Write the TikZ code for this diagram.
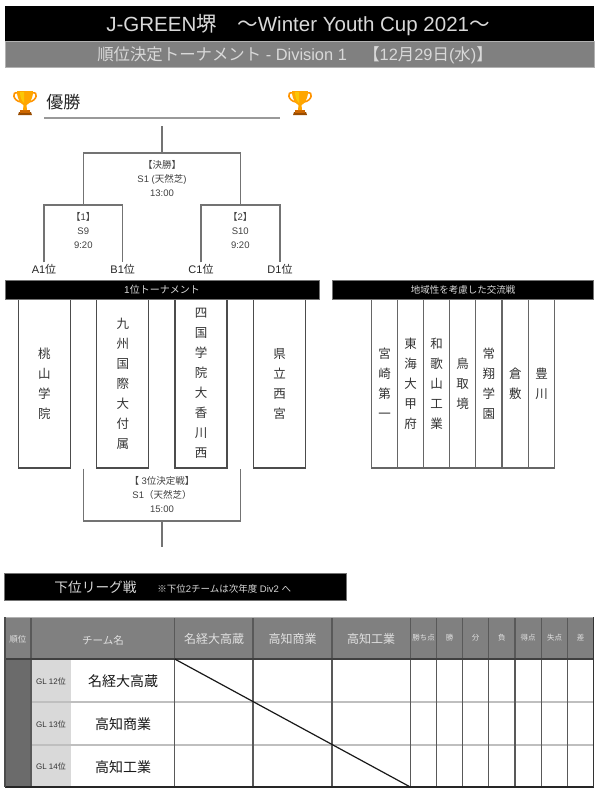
\documentclass[tikz,border=0pt]{standalone}
\usepackage{fontspec}
\setmainfont{Liberation Sans}
\newfontfamily\cj{Noto Sans CJK JP}
\newcommand{\J}[1]{{\cj #1}}
\newcommand{\pxf}[1]{\fontsize{\the\dimexpr #1pt*3/4\relax}{15pt}\selectfont}
\tikzset{
  brk/.style={draw=black!55,line width=1pt},
  txt/.style={inner sep=0pt,text=black!75,font=\pxf{9.5}},
  lab/.style={inner sep=0pt,text=black!85,font=\pxf{11}},
  bandbox/.style={fill=black,draw=black!55,line width=.4pt},
  teambox/.style={draw=black!70,line width=.8pt,fill=white,inner sep=0pt,minimum width=39pt,minimum height=126.75pt,align=center,text=black!80,font=\cj\pxf{12.5}},
  xbox/.style={draw=black!60,line width=.9pt,fill=white,inner sep=0pt,minimum width=19.6pt,minimum height=126.75pt,align=center,text=black!80,font=\cj\pxf{12.5}},
  hdr/.style={inner sep=0pt,text=white!88!black,font=\cj\pxf{12}},
  hdrs/.style={inner sep=0pt,text=white!88!black,font=\cj\pxf{7.5}},
  tname/.style={inner sep=0pt,text=black!90,font=\cj\pxf{14}},
  gltxt/.style={inner sep=0pt,text=black!80,font=\pxf{8}},
  vrule/.style={draw=black!65,line width=.9pt},
  rowrule/.style={draw=black!25,line width=1pt},
  bartxt/.style={inner sep=0pt,text=white!85!black},
}
\newcommand{\drawtrophy}[2]{%
  \begin{scope}[shift={(#1,#2)}]
    \fill[orange!60!black] (-6,10) -- (6,10) -- (7,13) -- (-7,13) -- cycle;
    \fill[orange!80!black] (-5,8) rectangle (5,11);
    \draw[orange!85!yellow,line width=1.2pt] (-7,-9) .. controls (-14,-11) and (-12,-1) .. (-4,0);
    \draw[orange!85!yellow,line width=1.2pt] (7,-9) .. controls (14,-11) and (12,-1) .. (4,0);
    \fill[orange!70!yellow] (-8,-11) -- (8,-11) .. controls (8,-2) and (4,2) .. (1.5,3) -- (2,8) -- (-2,8) -- (-1.5,3) .. controls (-4,2) and (-8,-2) .. (-8,-11) -- cycle;
    \fill[yellow!60!orange] (-5,-10) .. controls (-5,-4) and (-3,-1) .. (-1,1) -- (-1,-10) -- cycle;
  \end{scope}}
\begin{document}
\begin{tikzpicture}[x=.75pt,y=-.75pt]
\useasboundingbox (0,0) rectangle (600,797);
\fill[white] (0,0) rectangle (600,797);
% title
\path[fill=black] (5,6) rectangle (594,41);
\path[fill=black!50,draw=black!30,line width=.3pt] (5,41) rectangle (594,67);
\node[bartxt,font=\pxf{20.5}] (title) at (298,25) {J-GREEN\J{堺　〜}Winter Youth Cup 2021\J{〜}};
\node[bartxt,font=\pxf{16.4}] (subtitle) at (295,55) {\J{順位決定トーナメント} - Division 1\J{　【}12\J{月}29\J{日}(\J{水})\J{】}};
% champion
\drawtrophy{25}{102}
\drawtrophy{300}{102}
\node[inner sep=0pt,text=black!85,font=\cj\pxf{17},anchor=west] (win) at (46,102) {優勝};
\coordinate (wl) at (44,118); \coordinate (wr) at (280,118);
\draw[draw=black!40,line width=1.2pt] (wl) -- (wr);
% coordinates of bracket
\coordinate (top) at (162,126);
\coordinate (fin) at (162,153);
\coordinate (fl) at (83.3,153);
\coordinate (fr) at (240.3,153);
\coordinate (s1) at (83.3,205);
\coordinate (s2) at (240.3,205);
\coordinate (s1l) at (44,205);
\coordinate (s1r) at (122.7,205);
\coordinate (s2l) at (201,205);
\coordinate (s2r) at (280,205);
\node[lab] (A) at (44,269) {A1\J{位}};
\node[lab] (B) at (122.7,269) {B1\J{位}};
\node[lab] (C) at (201,269) {C1\J{位}};
\node[lab] (D) at (280,269) {D1\J{位}};
\draw[brk] (top) -- (fin);
\draw[brk] (s1) -- (fl) -- (fr) -- (s2);
\draw[brk] ([yshift=1pt]A.north -| s1l) -- (s1l) -- (s1r) -- ([yshift=1pt]B.north -| s1r);
\draw[brk] ([yshift=1pt]C.north -| s2l) -- (s2l) -- (s2r) -- ([yshift=1pt]D.north -| s2r);
\node[txt] (f1) at (162,165) {\J{【決勝】}};
\node[txt] (f2) at (162,179) {S1 (\J{天然芝})};
\node[txt] (f3) at (162,193) {13:00};
\node[txt] (m1a) at (83.3,217) {\J{【}1\J{】}};
\node[txt] (m1b) at (83.3,231) {S9};
\node[txt] (m1c) at (83.3,245) {9:20};
\node[txt] (m2a) at (240.3,217) {\J{【}2\J{】}};
\node[txt] (m2b) at (240.3,231) {S10};
\node[txt] (m2c) at (240.3,245) {9:20};
% team boxes
\node[teambox] (t1) at (44.3,383.5) {桃\\山\\学\\院};
\node[teambox] (t2) at (122.8,383.5) {九\\州\\国\\際\\大\\付\\属};
\node[teambox] (t3) at (201,383.5) {四\\国\\学\\院\\大\\香\\川\\西};
\node[teambox] (t4) at (279.7,383.5) {県\\立\\西\\宮};
% exchange boxes
\node[xbox] (x1) at (384.7,383.5) {宮\\崎\\第\\一};
\node[xbox] (x2) at (410.7,383.5) {東\\海\\大\\甲\\府};
\node[xbox] (x3) at (436.7,383.5) {和\\歌\\山\\工\\業};
\node[xbox] (x4) at (462.7,383.5) {鳥\\取\\境};
\node[xbox] (x5) at (488.9,383.5) {常\\翔\\学\\園};
\node[xbox] (x6) at (515.3,383.5) {倉\\敷};
\node[xbox] (x7) at (541.7,383.5) {豊\\川};
% bars
\path[bandbox] (5,280) rectangle (319,299);
\node[bartxt,font=\pxf{10}] (b1) at (162,290) {1\J{位トーナメント}};
\path[bandbox] (332,280) rectangle (593,299);
\node[bartxt,font=\cj\pxf{9.5}] (b2) at (463,290) {地域性を考慮した交流戦};
% third place
\coordinate (th1) at (83.3,468.5);
\coordinate (th2) at (240.3,468.5);
\coordinate (thl) at (83.3,521);
\coordinate (thr) at (240.3,521);
\coordinate (thm) at (162,521);
\coordinate (the) at (162,547);
\draw[brk] (th1) -- (thl) -- (thr) -- (th2);
\draw[brk] (thm) -- (the);
\node[txt] (p1) at (162,481) {\J{【} 3\J{位決定戦】}};
\node[txt] (p2) at (162,495) {S1\J{（天然芝）}};
\node[txt] (p3) at (162,509) {15:00};
% lower league
\path[bandbox] (4,573) rectangle (346,600);
\node[bartxt,font=\cj\pxf{13.7}] (ll) at (95.5,587) {下位リーグ戦};
\node[bartxt,font=\pxf{9.5},anchor=west] (ln) at (157,589) {\J{※下位}2\J{チームは次年度} Div2 \J{へ}};
% table fills
\fill[black!50] (5,617) rectangle (594,659);
\fill[black!58] (5,659) rectangle (31,787);
\fill[black!15] (31,659) rectangle (71,787);
% rows
\foreach \yy in {702,745} \draw[rowrule] (31,\yy) -- (594,\yy);
% columns
\foreach \xx in {31,174.7,253,332,410.3,436.7,462.7,488.7,515,541.3,567.7}
  \draw[vrule] (\xx,617) -- (\xx,787);
\draw[draw=black!75,line width=1pt] (5,659) -- (594,659);
\draw[draw=black!30,line width=.6pt] (5,617) -- (594,617);
\draw[draw=black!85,line width=.9pt] (5,787) -- (594,787);
\draw[draw=black!70,line width=.9pt] (5,617) -- (5,787);
\draw[draw=black!80,line width=.9pt] (593.5,617) -- (593.5,787);
\coordinate (d1) at (174.7,659); \coordinate (d2) at (410.3,787);
\draw[draw=black!90,line width=.9pt] (d1) -- (d2);
% headers
\node[hdr,font=\cj\pxf{8.5}] (h0) at (18,639) {順位};
\node[hdr,font=\cj\pxf{10.5}] (h1) at (103,640) {チーム名};
\node[hdr] (h2) at (214,639) {名経大高蔵};
\node[hdr] (h3) at (292.6,639) {高知商業};
\node[hdr] (h4) at (371,639) {高知工業};
\node[hdrs] (h5) at (423.5,638) {勝ち点};
\node[hdrs] (h6) at (449.7,638) {勝};
\node[hdrs] (h7) at (475.7,638) {分};
\node[hdrs] (h8) at (501.8,638) {負};
\node[hdrs] (h9) at (528,638) {得点};
\node[hdrs] (h10) at (554.5,638) {失点};
\node[hdrs] (h11) at (580.5,638) {差};
% rows text
\node[gltxt] (g1) at (51,681) {GL 12\J{位}};
\node[gltxt] (g2) at (51,724) {GL 13\J{位}};
\node[gltxt] (g3) at (51,766) {GL 14\J{位}};
\node[tname] (n1) at (123,681.5) {名経大高蔵};
\node[tname] (n2) at (123,724) {高知商業};
\node[tname] (n3) at (123,767) {高知工業};
\end{tikzpicture}
\end{document}
